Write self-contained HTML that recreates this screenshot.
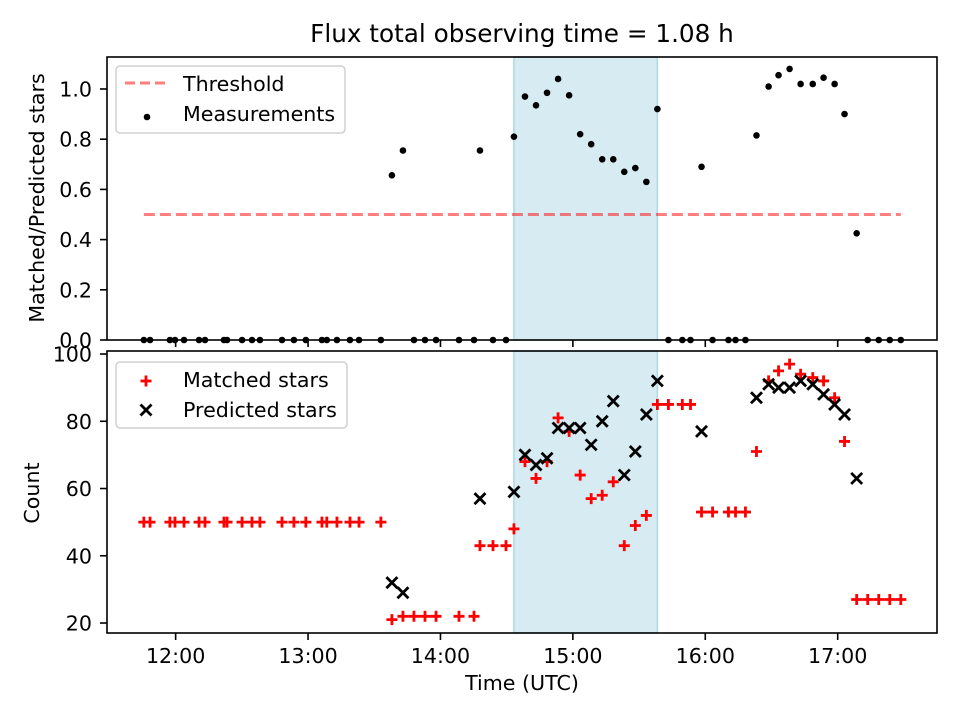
<!DOCTYPE html>
<html><head><meta charset="utf-8"><style>
body{margin:0;background:#fff;}
svg{display:block;font-family:"DejaVu Sans","Liberation Sans",sans-serif;}
</style></head><body>
<svg id="chart" width="960" height="720" xmlns="http://www.w3.org/2000/svg"></svg>
<script>
// minutes since 12:00 UTC
const times = [-14.4,-11.6,-2.6,-0.3,3.8,10.6,13.3,21.9,23.3,30.1,34.6,38.2,48.2,53.6,59.0,66.3,68.5,73.1,79.0,83.1,93.0,98.0,103.0,108.0,113.0,118.0,128.4,135.2,137.9,143.8,149.7,153.3,158.3,163.3,168.3,173.3,178.3,183.3,188.3,193.3,198.3,203.3,208.3,213.3,218.3,223.3,229.6,233.3,238.3,243.3,250.5,253.7,258.2,263.2,268.7,273.2,278.2,283.2,288.7,293.6,298.6,303.1,308.6,313.6,318.6,323.6,328.6];
const matched = [50,50,50,50,50,50,50,50,50,50,50,50,50,50,50,50,50,50,50,50,50,21,22,22,22,22,22,22,43,43,43,48,68,63,68,81,77,64,57,58,62,43,49,52,85,85,85,85,53,53,53,53,53,71,92,95,97,94,93,92,87,74,27,27,27,27,27];
const predicted = [null,null,null,null,null,null,null,null,null,null,null,null,null,null,null,null,null,null,null,null,null,32,29,null,null,null,null,null,57,null,null,59,70,67,69,78,78,78,73,80,86,64,71,82,92,null,null,null,77,null,null,null,null,87,91,90,90,92,91,88,85,82,63,null,null,null,null];
const ratio = [0,0,0,0,0,0,0,0,0,0,0,0,0,0,0,0,0,0,0,0,0,0.656,0.755,0,0,0,0,0,0.755,0,0,0.81,0.97,0.935,0.985,1.04,0.975,0.82,0.78,0.72,0.72,0.67,0.685,0.63,0.92,0,0,0,0.69,0,0,0,0,0.815,1.01,1.055,1.08,1.02,1.02,1.045,1.02,0.90,0.425,0,0,0,0];
const threshold = 0.5;
const shadeSpan = [153.3, 218.3];
const xTickMinutes = [0,60,120,180,240,300];
const xTickLabels = ["12:00","13:00","14:00","15:00","16:00","17:00"];
const topTicks = [0.0,0.2,0.4,0.6,0.8,1.0];
const botTicks = [20,40,60,80,100];

const NS="http://www.w3.org/2000/svg";
const svg=document.getElementById('chart');
function el(tag,attrs,parent){const e=document.createElementNS(NS,tag);for(const k in attrs)e.setAttribute(k,attrs[k]);(parent||svg).appendChild(e);return e;}
const L=107,R=937;
const xMin=-31.1,xMax=345;
const X=m=>L+(m-xMin)/(xMax-xMin)*(R-L);
const T={top:57,bot:340,min:0,max:1.1275};
const B={top:351,bot:633,min:17.03,max:100.9};
const Yt=v=>T.bot-(v-T.min)/(T.max-T.min)*(T.bot-T.top);
const Yb=v=>B.bot-(v-B.min)/(B.max-B.min)*(B.bot-B.top);
const FS=20.6;

let t=el('text',{x:522,y:42,'text-anchor':'middle','font-size':'24.7'});t.textContent='Flux total observing time = 1.08 h';



function panel(P,Y,ticks,fmt,name,showX){
  const g=el('g',{});
  
  
  const sh=el('rect',{x:X(shadeSpan[0]),y:P.top,width:X(shadeSpan[1])-X(shadeSpan[0]),height:P.bot-P.top,fill:'#add8e6','fill-opacity':0.5,stroke:'#add8e6','stroke-width':1.5},g);
  
  
  ticks.forEach(v=>{
    const y=Y(v);
    el('line',{x1:L-7,x2:L,y1:y,y2:y,stroke:'#000','stroke-width':1.6},g);
    const tx=el('text',{x:L-15,y:y+7.5,'text-anchor':'end','font-size':FS},g);tx.textContent=fmt(v);
    
    
  });
  xTickMinutes.forEach((m,i)=>{
    const x=X(m);
    el('line',{x1:x,x2:x,y1:P.bot,y2:P.bot+7,stroke:'#000','stroke-width':1.6},g);
    if(showX){const tx=el('text',{x:x,y:P.bot+30,'text-anchor':'middle','font-size':FS},g);tx.textContent=xTickLabels[i];
      
      }
  });
  return g;
}
const gT=panel(T,Yt,topTicks,v=>v.toFixed(1),'top-panel',false);
const gB=panel(B,Yb,botTicks,v=>String(v),'bottom-panel',true);

const th=el('line',{x1:X(times[0]),x2:X(times[times.length-1]),y1:Yt(threshold),y2:Yt(threshold),stroke:'#ff0000','stroke-opacity':0.5,'stroke-width':3,'stroke-dasharray':'11,5'},gT);


times.forEach((m,i)=>{
  const c=el('circle',{cx:X(m),cy:Yt(ratio[i]),r:3.3,fill:'#000'},gT);
  
  
});
times.forEach((m,i)=>{
  const x=X(m),y=Yb(matched[i]);
  const p=el('path',{d:`M${x-5.5},${y}H${x+5.5}M${x},${y-5.5}V${y+5.5}`,stroke:'#ff0000','stroke-width':2.8},gB);
  
  
});
times.forEach((m,i)=>{
  if(predicted[i]==null)return;
  const x=X(m),y=Yb(predicted[i]);
  const p=el('path',{d:`M${x-5.5},${y-5.5}L${x+5.5},${y+5.5}M${x-5.5},${y+5.5}L${x+5.5},${y-5.5}`,stroke:'#000','stroke-width':2.8},gB);
  
  
});
[T,B].forEach(P=>{const f=el('rect',{x:L,y:P.top,width:R-L,height:P.bot-P.top,fill:'none',stroke:'#000','stroke-width':1.6});
  
  });

let yl=el('text',{x:0,y:0,'text-anchor':'middle','font-size':FS,transform:'translate(44,198) rotate(-90)'});yl.textContent='Matched/Predicted stars';


let yl2=el('text',{x:0,y:0,'text-anchor':'middle','font-size':FS,transform:'translate(39,493) rotate(-90)'});yl2.textContent='Count';


let xl=el('text',{x:522,y:690,'text-anchor':'middle','font-size':FS});xl.textContent='Time (UTC)';



const lg1=el('g',{});


el('rect',{x:116,y:66,width:229,height:67,rx:4,fill:'#fff','fill-opacity':0.8,stroke:'#d0d0d0','stroke-width':1.5},lg1);
el('line',{x1:125,x2:167,y1:83,y2:83,stroke:'#ff0000','stroke-opacity':0.5,'stroke-width':3,'stroke-dasharray':'10,5'},lg1);
let a=el('text',{x:183,y:91,'font-size':FS},lg1);a.textContent='Threshold';


el('circle',{cx:147,cy:117,r:3.3,fill:'#000'},lg1);
a=el('text',{x:183,y:121,'font-size':FS},lg1);a.textContent='Measurements';



const lg2=el('g',{});


el('rect',{x:116,y:362,width:231,height:66,rx:4,fill:'#fff','fill-opacity':0.8,stroke:'#d0d0d0','stroke-width':1.5},lg2);
el('path',{d:'M140.5,381H151.5M146,375.5V386.5',stroke:'#ff0000','stroke-width':2.8},lg2);
a=el('text',{x:183,y:387,'font-size':FS},lg2);a.textContent='Matched stars';


el('path',{d:'M140.5,404.5L151.5,415.5M140.5,415.5L151.5,404.5',stroke:'#000','stroke-width':2.8},lg2);
a=el('text',{x:183,y:417,'font-size':FS},lg2);a.textContent='Predicted stars';


</script>
</body></html>
